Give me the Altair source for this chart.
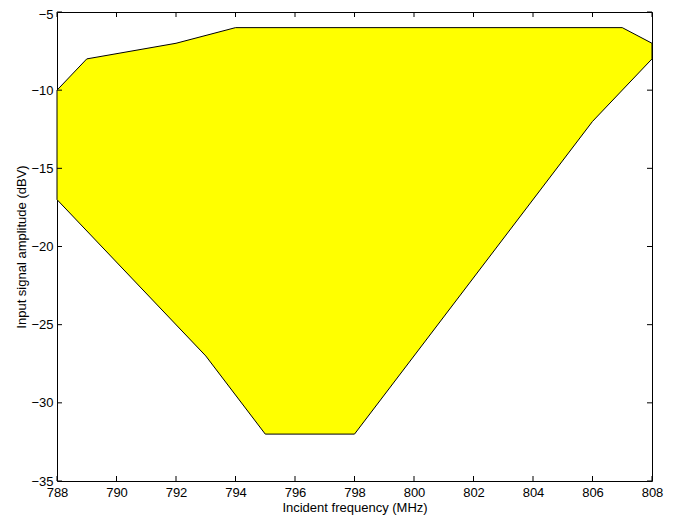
import altair as alt
import pandas as pd

# Polygon vertices (closed): upper edge left->right, then lower edge right->left
poly_x = [788, 789, 792, 794, 807, 808, 808, 806, 798, 795, 793, 788, 788]
poly_y = [-10, -8, -7, -6, -6, -7, -8, -12, -32, -32, -27, -17, -10]

x_ticks = [788, 790, 792, 794, 796, 798, 800, 802, 804, 806, 808]
y_ticks = [-35, -30, -25, -20, -15, -10, -5]

W, H = 595, 469
FONT = "Liberation Sans"

poly = pd.DataFrame({"x": poly_x, "y": poly_y, "i": list(range(len(poly_x)))})
xt = pd.DataFrame({"x": x_ticks})
yt = pd.DataFrame({"y": y_ticks})

xscale = alt.Scale(domain=[788, 808], nice=False, zero=False)
yscale = alt.Scale(domain=[-35, -5], nice=False, zero=False)

xaxis = alt.Axis(values=x_ticks, format="d", grid=False, ticks=False, domain=False,
                 labelFlush=False, labelPadding=5, labelFont=FONT, labelFontSize=13,
                 labelColor="black", title="Incident frequency (MHz)", titleFont=FONT,
                 titleFontSize=13, titleFontWeight="normal", titleColor="black",
                 titlePadding=2)
yaxis = alt.Axis(values=y_ticks, format="d", grid=False, ticks=False, domain=False,
                 labelFlush=False, labelPadding=4, labelFont=FONT, labelFontSize=13,
                 labelColor="black",
                 labelOffset={"condition": {"test": "datum.value === -5", "value": 2}, "value": 0},
                 title="Input signal amplitude (dBV)", titleFont=FONT,
                 titleFontSize=13, titleFontWeight="normal", titleColor="black",
                 titlePadding=2)

shape = alt.Chart(poly).mark_line(fill="#ffff00", fillOpacity=1, opacity=1,
                                  stroke="black", strokeWidth=1).encode(
    x=alt.X("x:Q", scale=xscale, axis=xaxis),
    y=alt.Y("y:Q", scale=yscale, axis=yaxis),
    order=alt.Order("i:Q"),
)

tick_bottom = alt.Chart(xt).mark_rule(color="black", strokeWidth=1).encode(
    x=alt.X("x:Q", scale=xscale, axis=xaxis), y=alt.value(H), y2=alt.value(H - 5))
tick_top = alt.Chart(xt).mark_rule(color="black", strokeWidth=1).encode(
    x=alt.X("x:Q", scale=xscale, axis=xaxis), y=alt.value(0), y2=alt.value(5))
tick_left = alt.Chart(yt).mark_rule(color="black", strokeWidth=1).encode(
    y=alt.Y("y:Q", scale=yscale, axis=yaxis), x=alt.value(0), x2=alt.value(5))
tick_right = alt.Chart(yt).mark_rule(color="black", strokeWidth=1).encode(
    y=alt.Y("y:Q", scale=yscale, axis=yaxis), x=alt.value(W), x2=alt.value(W - 5))

chart = alt.layer(shape, tick_bottom, tick_top, tick_left, tick_right).properties(
    width=W, height=H,
    background="white",
    autosize=alt.AutoSizeParams(type="none"),
    padding={"left": 49, "top": 4, "right": 18, "bottom": 42},
).configure_view(stroke="black", strokeWidth=1).configure_axis(ticks=False, domain=False, grid=False)

chart.save("out.html", embed_options={"renderer": "svg", "actions": False})
